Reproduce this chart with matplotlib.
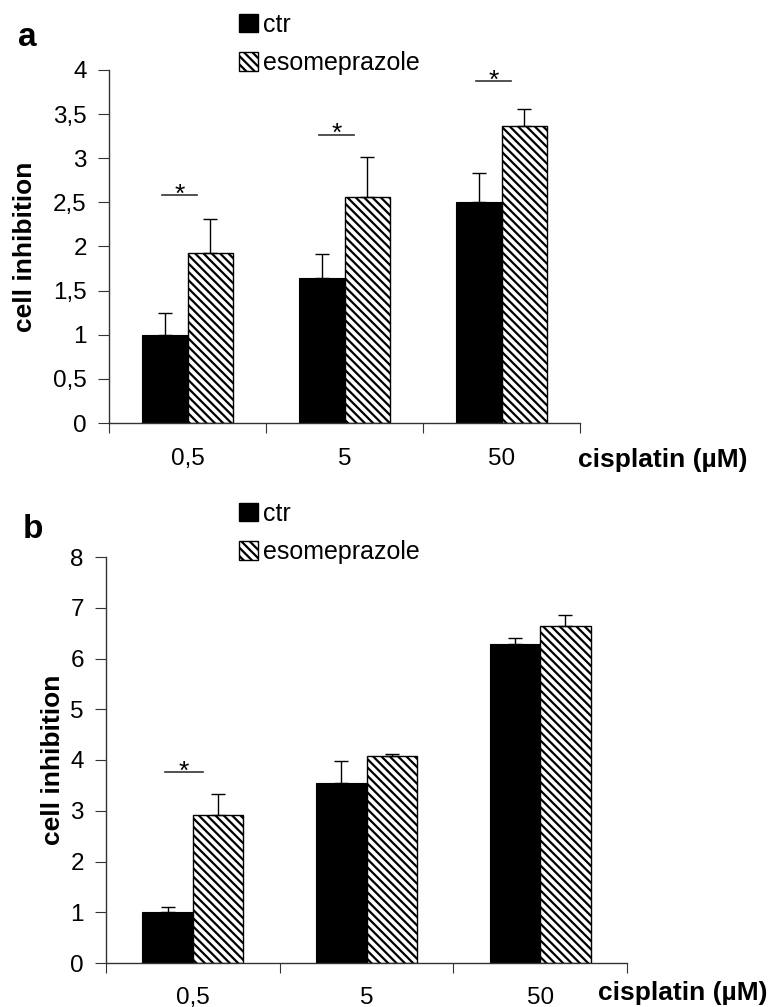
import matplotlib
matplotlib.use('Agg')
import matplotlib.pyplot as plt
from matplotlib.patches import Patch
import numpy as np

plt.rcParams['font.family'] = ['Liberation Sans', 'DejaVu Sans']
plt.rcParams['hatch.linewidth'] = 1.6

doses = ['0,5', '5', '50']
series = ['ctr', 'esomeprazole']

# panel a
a_ctr = [1.00, 1.64, 2.50]
a_ctr_err = [0.245, 0.28, 0.335]
a_eso = [1.925, 2.565, 3.36]
a_eso_err = [0.385, 0.45, 0.20]
a_sig = [2.58, 3.265, 3.87]
a_yticks = [0, 0.5, 1, 1.5, 2, 2.5, 3, 3.5, 4]

# panel b
b_ctr = [1.00, 3.54, 6.29]
b_ctr_err = [0.11, 0.45, 0.12]
b_eso = [2.91, 4.07, 6.65]
b_eso_err = [0.42, 0.04, 0.21]
b_sig = [3.76, None, None]
b_yticks = [0, 1, 2, 3, 4, 5, 6, 7, 8]

W = 0.29
HATCH = '\\\\\\\\'


def draw_panel(ax, ctr, ctr_err, eso, eso_err, sig, yticks, xpad, ylab_x, xlab_pos):
    x = np.arange(len(doses))
    ax.bar(x - W / 2, ctr, W, color='black', edgecolor='black', linewidth=0.8)
    ax.bar(x + W / 2, eso, W, color='white', edgecolor='black', hatch=HATCH, linewidth=1)
    zeros = np.zeros(len(doses))
    ax.errorbar(x - W / 2, ctr, yerr=[zeros, ctr_err], fmt='none', ecolor='black',
                elinewidth=1, capsize=5, capthick=1)
    ax.errorbar(x + W / 2, eso, yerr=[zeros, eso_err], fmt='none', ecolor='black',
                elinewidth=1, capsize=5, capthick=1)
    for i, h in enumerate(sig):
        if h is None:
            continue
        ax.plot([i - 0.16, i + 0.06], [h, h], color='#333333', lw=1.2)
        ax.annotate('*', (i - 0.05, h), xytext=(0, -4.5), textcoords='offset points',
                    ha='center', va='baseline', fontsize=19)

    ax.set_xlim(-0.5, len(doses) - 0.5)
    ax.set_ylim(yticks[0], yticks[-1])
    ax.set_xticks(np.arange(len(doses) + 1) - 0.5)
    ax.set_xticklabels([])
    ax.set_xticks(x, minor=True)
    ax.set_xticklabels(doses, minor=True)
    ax.tick_params(axis='x', which='major', direction='out', length=7, color='#333333')
    ax.tick_params(axis='x', which='minor', length=0, pad=xpad, labelsize=17.5)
    ax.set_yticks(yticks)
    ax.set_yticklabels([('%g' % v).replace('.', ',') for v in yticks])
    ax.tick_params(axis='y', direction='out', length=8, pad=8, labelsize=17.5, color='#333333')
    for s in ['top', 'right']:
        ax.spines[s].set_visible(False)
    for s in ['left', 'bottom']:
        ax.spines[s].set_color('#333333')
        ax.spines[s].set_linewidth(1)
    ax.set_ylabel('cell inhibition', fontsize=19, fontweight='bold')
    ax.yaxis.set_label_coords(ylab_x, 0.5)
    ax.text(xlab_pos[0], xlab_pos[1], 'cisplatin (µM)', transform=ax.transAxes,
            ha='left', va='center', fontsize=19, fontweight='bold')


def add_legend(fig, top):
    handles = [Patch(facecolor='black', edgecolor='black'),
               Patch(facecolor='white', edgecolor='black', hatch=HATCH)]
    fig.legend(handles, series, loc='upper left', bbox_to_anchor=(239 / 772, top),
               bbox_transform=fig.transFigure, frameon=False, fontsize=18,
               handlelength=0.75, handleheight=0.75, handletextpad=0.2,
               labelspacing=0.57, borderaxespad=0, borderpad=0)


fig = plt.figure(figsize=(7.72, 10.07), dpi=100)

ax_a = fig.add_axes([109 / 772, 1 - 423 / 1007, 471 / 772, 353 / 1007])
draw_panel(ax_a, a_ctr, a_ctr_err, a_eso, a_eso_err, a_sig, a_yticks,
           xpad=18, ylab_x=-0.153, xlab_pos=(0.996, -0.105))
add_legend(fig, 1 - 13 / 1007)
fig.text(18 / 772, 1 - 37 / 1007, 'a', fontsize=24, fontweight='bold', va='center')

ax_b = fig.add_axes([106 / 772, 1 - 963 / 1007, 521 / 772, 406 / 1007])
draw_panel(ax_b, b_ctr, b_ctr_err, b_eso, b_eso_err, b_sig, b_yticks,
           xpad=17, ylab_x=-0.078, xlab_pos=(0.944, -0.074))
add_legend(fig, 1 - 502 / 1007)
fig.text(23 / 772, 1 - 530 / 1007, 'b', fontsize=24, fontweight='bold', va='center')

fig.savefig('out.png', dpi=100)
